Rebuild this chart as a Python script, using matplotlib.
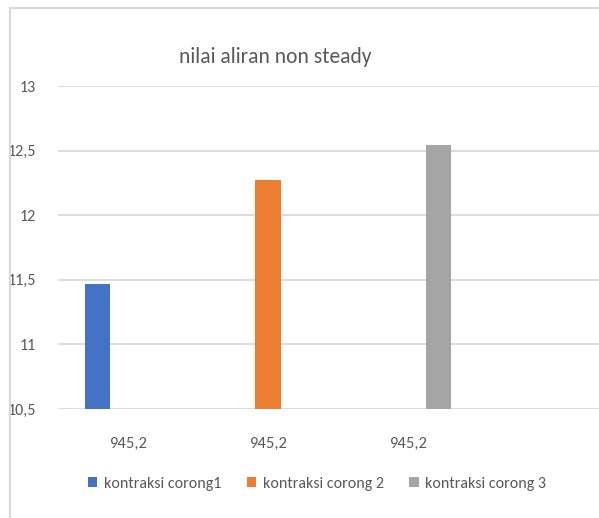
import numpy as np
import matplotlib
matplotlib.use("Agg")
from matplotlib import pyplot as plt
from matplotlib.patches import Rectangle

categories = ["945,2", "945,2", "945,2"]
series_names = ["kontraksi corong1", "kontraksi corong 2", "kontraksi corong 3"]
# one value per series, each series only has a value in its own category
series_values = [
    [11.47, np.nan, np.nan],
    [np.nan, 12.27, np.nan],
    [np.nan, np.nan, 12.54],
]
colors = ["#4472C4", "#ED7D31", "#A5A5A5"]
yticks = [10.5, 11, 11.5, 12, 12.5, 13]
ytick_labels = ["10,5", "11", "11,5", "12", "12,5", "13"]

plt.rcParams['font.family'] = ['Carlito', 'DejaVu Sans']
W, H = 599, 518
fig = plt.figure(figsize=(W / 100, H / 100), dpi=100)

# chart border (cropped on right/bottom)
fig.patches.append(Rectangle((10 / W, -0.1), 1.2, 1 - 8 / H + 0.1, transform=fig.transFigure,
                             fill=False, edgecolor="#d9d9d9", linewidth=1.5))

ax = fig.add_axes([58 / W, 1 - 409 / H, 1 - 58 / W, (409 - 86) / H])
x = np.arange(len(categories))
slot = 0.218
bw = 0.18
for i, (name, vals) in enumerate(zip(series_names, series_values)):
    ax.bar(x + (i - 1) * slot, np.array(vals) - 10.5, bottom=10.5, width=bw,
           color=colors[i], label=name, zorder=3)

ax.set_ylim(10.5, 13)
ax.set_xlim(-0.5, -0.5 + (W - 58) / 140)
ax.set_yticks(yticks)
ax.set_yticklabels(ytick_labels)
ax.set_xticks(x)
ax.set_xticklabels(categories)
ax.grid(axis='y', color="#d9d9d9", linewidth=1.3, zorder=0)
for s in ax.spines.values():
    s.set_visible(False)
ax.tick_params(axis='y', length=0, pad=16, labelsize=11.5, labelcolor="#595959")
ax.tick_params(axis='x', length=0, pad=20, labelsize=12, labelcolor="#595959")

fig.text(275 / W, 1 - 57 / H, "nilai aliran non steady", ha='center', va='center',
         fontsize=15.5, color="#595959")

fig.legend(loc='center', bbox_to_anchor=(317 / W, 1 - 484 / H), ncol=3, frameon=False,
           fontsize=11.5, labelcolor="#595959", handlelength=0.6, handleheight=0.6,
           handletextpad=0.4, columnspacing=1.6)

fig.savefig("out.png", dpi=100)
